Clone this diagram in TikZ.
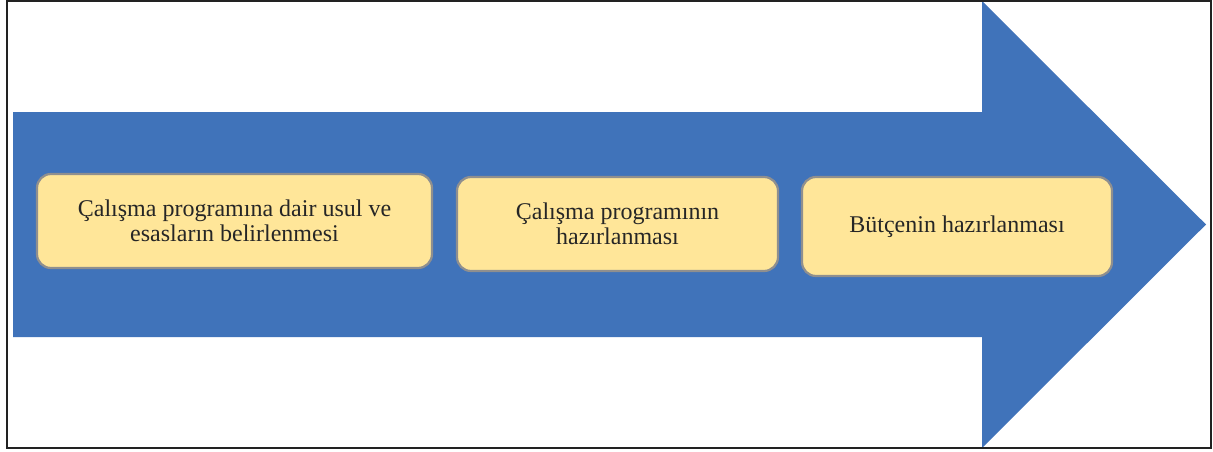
\documentclass[tikz,border=0pt]{standalone}
\usepackage{fontspec}
\setmainfont{Liberation Serif}
\definecolor{flowblue}{HTML}{4073BA}
\definecolor{stepfill}{HTML}{FFE699}
\definecolor{stepedge}{HTML}{8F8F8F}
\definecolor{steptext}{HTML}{262626}
\definecolor{framegray}{HTML}{222222}
\tikzset{
  stepbox/.style={rectangle, rounded corners=14pt, fill=stepfill, draw=stepedge,
    line width=2.2pt, align=center, text=steptext, inner sep=0pt,
    font=\fontsize{24}{25}\selectfont},
  flowarrow/.style={fill=flowblue, draw=none},
  outerframe/.style={draw=framegray, line width=1.8pt}
}
\begin{document}
\begin{tikzpicture}[x=1pt, y=-1pt]
  \useasboundingbox (0,0) rectangle (1213,452);
  % big process arrow behind the steps
  \fill[flowarrow] (13,112) -- (982,112) -- (982,1) -- (1206,224.5)
    -- (982,448) -- (982,337) -- (13,337) -- cycle;
  % outer frame
  \draw[outerframe] (7,1) rectangle (1211,448);
  % process steps
  \node[stepbox, minimum width=395pt, minimum height=94pt] (s1) at (234.5,221)
    {Çalışma programına dair usul ve\\esasların belirlenmesi};
  \node[stepbox, minimum width=321pt, minimum height=94pt] (s2) at (617.5,224)
    {Çalışma programının\\hazırlanması};
  \node[stepbox, minimum width=310pt, minimum height=99pt] (s3) at (957,226.5)
    {Bütçenin hazırlanması};
\end{tikzpicture}
\end{document}
